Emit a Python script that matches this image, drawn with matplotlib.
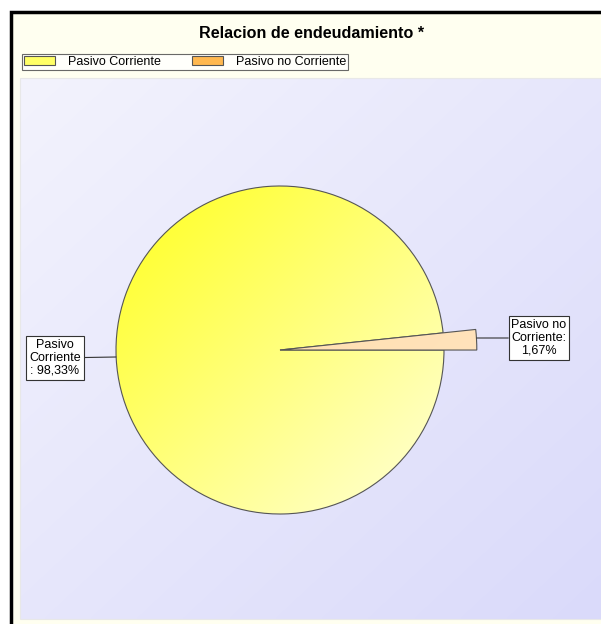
import matplotlib
matplotlib.use("Agg")
import matplotlib.pyplot as plt
import matplotlib.patches as mpatches
import numpy as np

plt.rcParams['font.family'] = ['Liberation Sans', 'DejaVu Sans']

title = 'Relacion de endeudamiento *'
categories = ['Pasivo Corriente', 'Pasivo no Corriente']
values = [98.33, 1.67]
label_texts = ['Pasivo\nCorriente\n: 98,33%', 'Pasivo no\nCorriente:\n1,67%']

W, H = 601, 624


def gradient(c1, c2, n=200):
    # diagonal gradient from top-left (c1) to bottom-right (c2)
    c1 = np.array(matplotlib.colors.to_rgb(c1))
    c2 = np.array(matplotlib.colors.to_rgb(c2))
    xx, yy = np.meshgrid(np.linspace(0, 1, n), np.linspace(0, 1, n))
    t = (xx + yy) / 2.0
    return c1[None, None, :] * (1 - t[..., None]) + c2[None, None, :] * t[..., None]


fig = plt.figure(figsize=(W / 100, H / 100), dpi=100)
fig.patch.set_facecolor('white')
ax = fig.add_axes([0, 0, 1, 1])

# outer frame
ax.add_patch(mpatches.Rectangle((11, -10), W + 20, H - 12 + 10, facecolor='#FFFFF0',
                                edgecolor='black', lw=2.5, zorder=0))

# plot area with gradient
ax.imshow(gradient('#F3F3FD', '#DADAFA'), extent=(20, W, H - 619, H - 78),
          origin='upper', zorder=1, aspect='auto', interpolation='bilinear')
ax.add_patch(mpatches.Rectangle((20, H - 619), W - 20, 541, fill=False,
                                edgecolor='#E8E8E8', lw=0.8, zorder=1.5))

fig.text(312 / W, 1 - 34 / H, title, ha='center', va='center',
         fontsize=11.6, fontweight='bold')

cx, cy, r = 280, H - 350, 164
wedges, _ = ax.pie(values, startangle=6, counterclock=True, center=(cx, cy), radius=r,
                   wedgeprops=dict(edgecolor='#555555', linewidth=0.8),
                   frame=True)
ax.set_xlim(0, W)
ax.set_ylim(0, H)
ax.set_aspect('equal')
ax.axis('off')
wedges[1].set_radius(r * 1.2)

fills = [('#FFFF1E', '#FFFFDA'), ('#FFD9A0', '#FFE6C4')]
for i, w in enumerate(wedges):
    w.set_facecolor('none')
    w.set_zorder(3 + i * 2)
    rr = w.r
    img = ax.imshow(gradient(*fills[i]), extent=(cx - rr, cx + rr, cy - rr, cy + rr),
                    origin='upper', zorder=2.5 + i * 2, aspect='auto', interpolation='bilinear')
    img.set_clip_path(w)

# labels with leader lines
box = dict(boxstyle='square,pad=0.22', facecolor='white', edgecolor='#333333', lw=0.8)
line = dict(arrowstyle='-', color='#333333', lw=0.8, shrinkA=0, shrinkB=0)
ax.annotate(label_texts[0], xy=(cx - r, cy - 7), xytext=(55, H - 358),
            ha='center', va='center', fontsize=9, linespacing=1.1, bbox=box,
            arrowprops=line, zorder=6)
ax.annotate(label_texts[1], xy=(cx + r * 1.2, cy + 12), xytext=(539, H - 338),
            ha='center', va='center', fontsize=9, linespacing=1.1, bbox=box,
            arrowprops=line, zorder=6)

# legend
handles = [mpatches.Patch(facecolor='#FFFF66', edgecolor='#555555', lw=0.8),
           mpatches.Patch(facecolor='#FFB850', edgecolor='#555555', lw=0.8)]
leg = ax.legend(handles, categories, ncol=2, loc='upper left',
                bbox_to_anchor=(22 / W, 1 - 54 / H), fontsize=9, frameon=True,
                fancybox=False, edgecolor='#444444', borderpad=0.15, handlelength=2.5,
                handleheight=0.7, handletextpad=1.0, columnspacing=2.5, borderaxespad=0)
leg.get_frame().set_linewidth(0.8)
leg.set_zorder(7)

fig.savefig('out.png', dpi=100, facecolor=fig.get_facecolor())
